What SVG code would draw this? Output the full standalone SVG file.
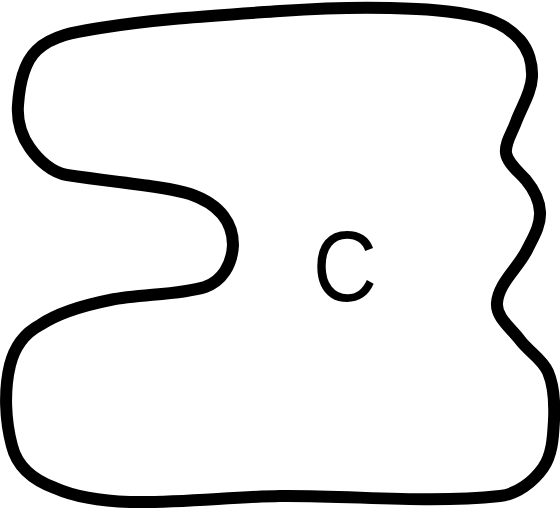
<svg xmlns="http://www.w3.org/2000/svg" width="560" height="510" viewBox="0 0 560 510">
<style>
.outline{fill:#ffffff;stroke:#000000;stroke-width:12;stroke-linejoin:round}
.label{font-family:"Liberation Sans",Arial,sans-serif;font-size:100px;fill:#000000}
</style>
<rect width="560" height="510" fill="#ffffff"/>
<g id="connectors"/>
<g id="node-C">
<path class="outline" d="M 18,105 C 19.4,85.7 22.9,63.3 37,50 C 53.2,34.8 78.1,31.5 100,28 C 159.5,18.5 219.8,15.2 280,11 C 316.6,8.5 353.3,6.9 390,8 C 420.1,8.9 450.8,9.8 480,17 C 495,20.7 509.9,28.4 520,40 C 528.5,49.8 532.6,64 532,77 C 531.2,92.9 521.5,107.1 516,122 C 511.9,133.1 504.8,143 506,153 C 507.2,163 519,172 526,180 C 533,188.5 539.5,200 540,212 C 540.8,225.6 533,237.8 527,250 C 518,268.2 498.6,282.8 497,303 C 495.9,317.5 511.4,328.3 520,340 C 528.4,351.4 542.4,358.9 548,372 C 554.3,386.8 554.8,403.9 554,420 C 553.1,436.4 552.5,454.6 543,468 C 533.1,481.9 517,494.2 500,496 C 427.1,503.8 353.3,495.2 280,496 C 230,497 180,503 130,502 C 100,501 75,497 55,488 C 33,480 17,466 12,446 C 5,420 4,390 10,365 C 15,345 25,333 40,325 C 58,313 85,305 110,300 C 140,294 180,295 205,287 C 222,281 232,265 233,245 C 233,225 222,205 190,194 C 165,186 120,183 67,175 C 52.2,172.8 38.7,160.3 30,148 C 21.4,135.8 16.9,119.9 18,105 Z"/>
<text class="label" transform="translate(345,301) scale(0.89,1)" x="0" y="0" text-anchor="middle">C</text>
</g>
</svg>
